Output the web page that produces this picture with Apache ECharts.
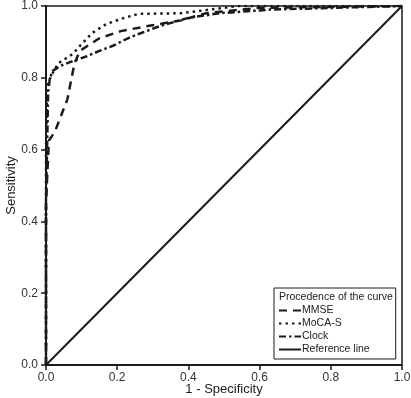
<!DOCTYPE html>
<html>
<head>
<meta charset="utf-8">
<script src="https://cdn.jsdelivr.net/npm/echarts@6/dist/echarts.min.js"></script>
<style>
html, body { margin: 0; padding: 0; background: #fff; }
#chart { width: 411px; height: 398px; }
</style>
</head>
<body>
<div id="chart"></div>
<script>
// 1 - specificity / sensitivity pairs
const mmseX = [0, 0, 0.008, 0.025, 0.06, 0.08, 0.095, 0.15, 0.21, 0.29, 0.38, 0.45, 0.6, 1];
const mmseY = [0, 0.45, 0.625, 0.65, 0.74, 0.84, 0.875, 0.91, 0.93, 0.945, 0.96, 0.98, 0.995, 1];

const mocaX = [0, 0, 0.003, 0.017, 0.034, 0.076, 0.1, 0.13, 0.17, 0.22, 0.26, 0.38, 0.46, 0.54, 1];
const mocaY = [0, 0.6, 0.78, 0.81, 0.84, 0.867, 0.894, 0.925, 0.95, 0.967, 0.978, 0.98, 0.99, 1, 1];

const clockX = [0, 0, 0.003, 0.006, 0.011, 0.02, 0.04, 0.076, 0.115, 0.15, 0.19, 0.23, 0.26, 0.32, 0.4, 0.49, 0.63, 1];
const clockY = [0, 0.46, 0.6, 0.76, 0.8, 0.82, 0.833, 0.847, 0.86, 0.875, 0.89, 0.91, 0.922, 0.944, 0.967, 0.98, 0.99, 1];

const refX = [0, 1];
const refY = [0, 1];

const tickLabels = ['0.0', '0.2', '0.4', '0.6', '0.8', '1.0'];

const pairs = (xs, ys) => xs.map((x, i) => [x, ys[i]]);
const ink = '#1a1a1a';
const font = 'Liberation Sans, Arial, sans-serif';

let myEchart = echarts.init(document.getElementById('chart'));

let axisCommon = {
  type: 'value',
  min: 0,
  max: 1,
  interval: 0.2,
  nameLocation: 'middle',
  nameMoveOverlap: false,
  nameTextStyle: { color: ink, fontSize: 13, fontFamily: font },
  axisLine: { show: true, lineStyle: { color: ink, width: 2 } },
  axisTick: { show: true, length: 5, lineStyle: { color: ink, width: 1.5 } },
  axisLabel: {
    color: '#333',
    fontSize: 12,
    fontFamily: font,
    formatter: (v) => tickLabels[Math.round(v * 5)]
  },
  splitLine: { show: false }
};

let lineSeries = (name, data, dash, width) => ({
  name: name,
  type: 'line',
  data: data,
  symbol: 'none',
  smooth: false,
  lineStyle: { color: ink, width: width, type: dash },
  itemStyle: { color: ink }
});

let option = {
  animation: false,
  backgroundColor: '#fff',
  grid: {
    left: 46,
    right: 9,
    top: 6,
    bottom: 33,
    outerBoundsMode: 'none',
    containLabel: false,
    show: true,
    borderColor: ink,
    borderWidth: 1.5
  },
  xAxis: Object.assign({}, axisCommon, {
    name: '1 - Specificity',
    nameGap: 18,
    axisLabel: Object.assign({}, axisCommon.axisLabel, { margin: 7 })
  }),
  yAxis: Object.assign({}, axisCommon, {
    name: 'Sensitivity',
    nameGap: 28,
    axisLabel: Object.assign({}, axisCommon.axisLabel, { margin: 8 })
  }),
  // legend title sits inside the legend box
  title: {
    text: 'Procedence of the curve',
    left: 279,
    top: 292,
    padding: 0,
    textStyle: { color: '#222', fontSize: 10.5, fontWeight: 'normal', fontFamily: font }
  },
  legend: {
    orient: 'vertical',
    left: 274,
    top: 288,
    padding: [17, 26, 4, 4],
    borderColor: ink,
    borderWidth: 1,
    backgroundColor: '#fff',
    itemWidth: 22,
    itemHeight: 10,
    itemGap: 2,
    // hide the circle marker, keep the dashed line sample
    itemStyle: { color: 'rgba(0,0,0,0)', borderColor: 'rgba(0,0,0,0)', borderWidth: 0 },
    textStyle: { color: '#222', fontSize: 10.5, fontFamily: font, padding: [0, 0, 0, -4] },
    data: ['MMSE', 'MoCA-S', 'Clock', 'Reference line']
  },
  series: [
    lineSeries('MMSE', pairs(mmseX, mmseY), [8, 6], 2.5),
    lineSeries('MoCA-S', pairs(mocaX, mocaY), [2.5, 4], 2.5),
    lineSeries('Clock', pairs(clockX, clockY), [7, 3, 2.5, 3], 2.5),
    lineSeries('Reference line', pairs(refX, refY), 'solid', 2)
  ]
};

myEchart.setOption(option);
</script>
</body>
</html>
